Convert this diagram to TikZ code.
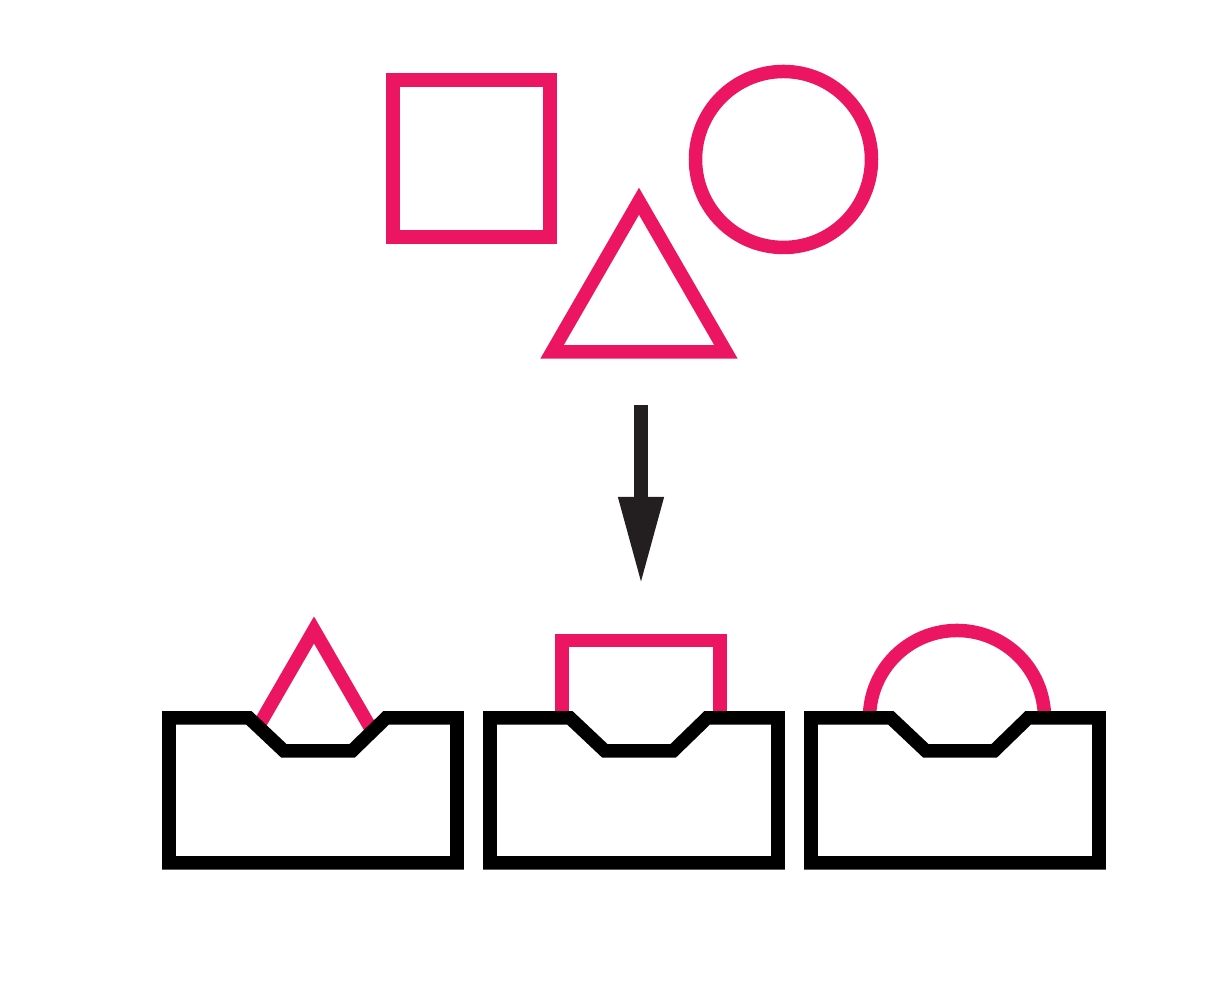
\documentclass[tikz,border=0pt]{standalone}
\usetikzlibrary{arrows.meta}
\definecolor{shapepink}{HTML}{EC1562}
\definecolor{arrowblack}{HTML}{231F20}
\begin{document}
\begin{tikzpicture}[x=0.01cm,y=0.01cm,line width=0.135cm,
    pinkline/.style={shapepink},
    trayline/.style={black,fill=white}]
            \useasboundingbox (0,0) rectangle (1226,983);
            \draw[pinkline] (393,746) rectangle (550,903);
            \draw[pinkline] (783.5,823.5) circle (88);
            \draw[pinkline] (552,631) -- (726,631) -- (639,781.7) -- cycle;
            \draw[arrowblack,-{Triangle[length=0.88cm,width=0.42cm]}] (641,578) -- (641,398);

            \draw[pinkline] (227,202.3) -- (401,202.3) -- (314,353) -- cycle;
            \draw[pinkline] (562,185.5) rectangle (720,342.5);
            \draw[pinkline] (957,265) circle (87.5);

            \draw[trayline] (169,265) -- (249,265) -- (284,232) -- (352,232) -- (386,265) -- (457,265) -- (457,120) -- (169,120) -- cycle;
            \draw[trayline] (490,265) -- (570,265) -- (605,232) -- (673,232) -- (707,265) -- (778,265) -- (778,120) -- (490,120) -- cycle;
            \draw[trayline] (811,265) -- (891,265) -- (926,232) -- (994,232) -- (1028,265) -- (1099,265) -- (1099,120) -- (811,120) -- cycle;
        \end{tikzpicture}
\end{document}
